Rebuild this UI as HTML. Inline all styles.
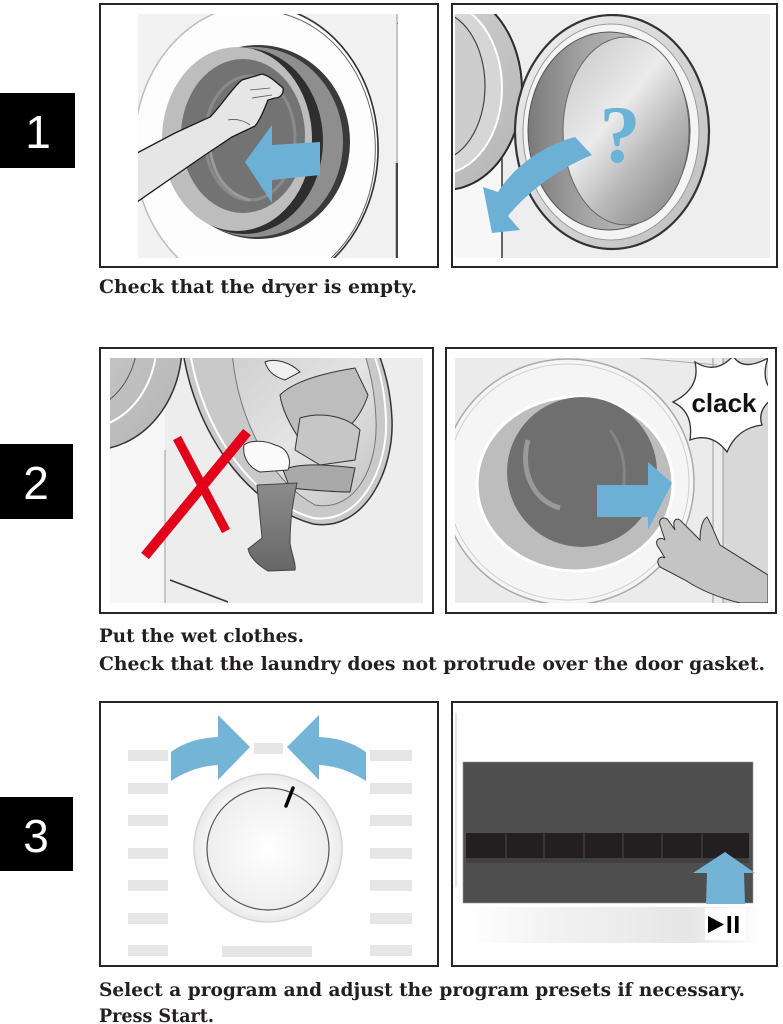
<!DOCTYPE html>
<html><head><meta charset="utf-8">
<style>
html,body{margin:0;padding:0;background:#fff;}
svg{display:block;}
</style></head><body>
<svg width="783" height="1024" viewBox="0 0 783 1024" xmlns="http://www.w3.org/2000/svg">
<defs>
  <clipPath id="c1"><rect x="138" y="14" width="260" height="244"/></clipPath>
  <clipPath id="c2"><rect x="455" y="14" width="315" height="244"/></clipPath>
  <clipPath id="c3"><rect x="110" y="358" width="313" height="245"/></clipPath>
  <clipPath id="c4"><rect x="455" y="358" width="313" height="245"/></clipPath>
  <linearGradient id="gL" x1="0" y1="0" x2="1" y2="1">
    <stop offset="0" stop-color="#d8d8d8"/><stop offset="1" stop-color="#b4b4b4"/>
  </linearGradient>
  <linearGradient id="bowl" x1="0" y1="0" x2="1" y2="0">
    <stop offset="0" stop-color="#7a7a7a"/><stop offset="0.35" stop-color="#a4a4a4"/><stop offset="1" stop-color="#cfcfcf"/>
  </linearGradient>
  <linearGradient id="disc" x1="0" y1="0" x2="0.8" y2="1">
    <stop offset="0" stop-color="#c4c4c4"/><stop offset="0.45" stop-color="#ebebeb"/><stop offset="0.7" stop-color="#b9b9b9"/><stop offset="1" stop-color="#8a8a8a"/>
  </linearGradient>
  <linearGradient id="ringg" x1="0" y1="0" x2="1" y2="1">
    <stop offset="0" stop-color="#f0f0f0"/><stop offset="1" stop-color="#bcbcbc"/>
  </linearGradient>
  <linearGradient id="drum2" x1="0" y1="0" x2="1" y2="1">
    <stop offset="0" stop-color="#cfcfcf"/><stop offset="0.5" stop-color="#e4e4e4"/><stop offset="1" stop-color="#c2c2c2"/>
  </linearGradient>
  <linearGradient id="sock" x1="0" y1="0" x2="0" y2="1">
    <stop offset="0" stop-color="#8c8c8c"/><stop offset="1" stop-color="#676767"/>
  </linearGradient>
  <linearGradient id="bar" x1="0" y1="0" x2="1" y2="0">
    <stop offset="0" stop-color="#ffffff"/><stop offset="0.3" stop-color="#f2f2f2"/><stop offset="0.75" stop-color="#e6e6e6"/><stop offset="1" stop-color="#ffffff"/>
  </linearGradient>
  <radialGradient id="dialIn" cx="0.5" cy="0.5" r="0.5">
    <stop offset="0" stop-color="#ffffff"/><stop offset="1" stop-color="#eeeeee"/>
  </radialGradient>
  <radialGradient id="dialOut" cx="0.5" cy="0.5" r="0.5">
    <stop offset="0.8" stop-color="#f7f7f7"/><stop offset="1" stop-color="#e9e9e9"/>
  </radialGradient>
</defs>

<!-- number boxes -->
<rect x="0" y="93" width="75" height="75" fill="#000"/>
<text x="38" y="148" font-family="Liberation Sans, sans-serif" font-size="46" fill="#fff" text-anchor="middle">1</text>
<rect x="0" y="444" width="73" height="75" fill="#000"/>
<text x="36" y="499" font-family="Liberation Sans, sans-serif" font-size="46" fill="#fff" text-anchor="middle">2</text>
<rect x="0" y="797" width="73" height="74" fill="#000"/>
<text x="36" y="852" font-family="Liberation Sans, sans-serif" font-size="46" fill="#fff" text-anchor="middle">3</text>

<!-- Panel 1 left -->
<g clip-path="url(#c1)">
  <rect x="138" y="14" width="260" height="244" fill="#f1f1f1"/>
  <ellipse cx="256" cy="148" rx="122" ry="143" fill="#fdfdfd" stroke="#bdbdbd" stroke-width="1.5"/>
  <path d="M287.6,10 A122,143 0 0 1 317,272" fill="none" stroke="#333" stroke-width="1.6"/>
  <path d="M284,14 A118,139 0 0 1 313,272" fill="none" stroke="#666" stroke-width="1"/>
  <ellipse cx="258" cy="142" rx="92" ry="97" fill="#3a3a3a"/>
  <ellipse cx="254" cy="142" rx="89" ry="95" fill="#8e8e8e"/>
  <ellipse cx="244" cy="141" rx="79" ry="93" fill="#2e2e2e"/>
  <ellipse cx="237" cy="139" rx="75" ry="92" fill="#bdbdbd"/>
  <ellipse cx="243" cy="136" rx="62" ry="77" fill="#737373"/>
  <ellipse cx="250" cy="138" rx="45" ry="62" fill="none" stroke="#8a8a8a" stroke-width="3"/>
  <path d="M210,150 C215,180 230,195 250,200" fill="none" stroke="#999" stroke-width="3"/>
  <path d="M137,153 L175,133 L210,117 C222,105 232,88 242,80 L262,74 C270,76 276,82 283,88 C284,94 280,98 275,98 L268,100 C264,110 260,120 255,126 L232,137 L205,155 L173,177 L137,202 Z" fill="#e6e6e6" stroke="#1a1a1a" stroke-width="1.3"/>
  <path d="M250,90 L270,88 M252,98 L272,95 M228,120 C238,118 246,122 250,125" fill="none" stroke="#555" stroke-width="0.8"/>
  <path d="M245,162 L272,125 L272,145 L320,142 L320,175 L272,180 L272,203 Z" fill="#6cb1d5"/>
  <line x1="397" y1="14" x2="397" y2="258" stroke="#999" stroke-width="1"/>
  <line x1="397" y1="163" x2="397" y2="258" stroke="#444" stroke-width="2.5"/>
  <line x1="397" y1="24" x2="408" y2="17" stroke="#777" stroke-width="1"/>
</g>

<!-- Panel 1 right -->
<g clip-path="url(#c2)">
  <rect x="455" y="14" width="315" height="244" fill="#eeeeee"/>
  <rect x="455" y="14" width="47" height="244" fill="#f7f7f7"/>
  <ellipse cx="445" cy="90" rx="77" ry="100" fill="url(#gL)" stroke="#2a2a2a" stroke-width="2"/>
  <ellipse cx="440" cy="88" rx="62" ry="86" fill="#d6d6d6" stroke="#fff" stroke-width="2"/>
  <ellipse cx="435" cy="86" rx="50" ry="75" fill="#cdcdcd" stroke="#444" stroke-width="1.2"/>
  <line x1="502" y1="157" x2="502" y2="258" stroke="#333" stroke-width="1.5"/>
  <ellipse cx="612" cy="132" rx="97" ry="117" fill="url(#ringg)" stroke="#333" stroke-width="2.2"/>
  <ellipse cx="611" cy="132" rx="88" ry="108" fill="#f4f4f4" stroke="#9a9a9a" stroke-width="1"/>
  <ellipse cx="609" cy="131" rx="81" ry="99" fill="url(#bowl)" stroke="#555" stroke-width="1"/>
  <ellipse cx="626" cy="131" rx="63" ry="94" fill="url(#disc)" stroke="#666" stroke-width="1"/>
  <text x="620" y="162" font-family="Liberation Serif, serif" font-weight="bold" font-size="82" fill="#6ab3d6" text-anchor="middle">?</text>
  <path d="M575,137 C555,142 520,158 498,192 L483,187 L492,233 L520,230 L508,216 C525,195 555,170 592,155 Z" fill="#6cb1d5"/>
</g>

<!-- Panel 2 left -->
<g clip-path="url(#c3)">
  <rect x="110" y="358" width="313" height="245" fill="#ededed"/>
  <rect x="110" y="358" width="55" height="245" fill="#f6f6f6"/>
  <ellipse cx="92" cy="345" rx="90" ry="105" fill="url(#gL)" stroke="#333" stroke-width="1.5"/>
  <ellipse cx="85" cy="340" rx="72" ry="88" fill="none" stroke="#fff" stroke-width="2"/>
  <ellipse cx="80" cy="335" rx="58" ry="75" fill="none" stroke="#555" stroke-width="1"/>
  <line x1="165" y1="450" x2="165" y2="603" stroke="#999" stroke-width="1"/>
  <path d="M183,352 C195,430 245,505 313,524 C365,532 394,470 392,420 C391,392 385,370 378,352 Z" fill="#c9c9c9" stroke="#333" stroke-width="1.5"/>
  <path d="M190,352 C202,428 250,500 313,518 C360,525 388,468 386,420 C385,392 380,370 373,352" fill="none" stroke="#fff" stroke-width="2"/>
  <path d="M232,352 C238,420 270,480 315,505 C355,512 378,468 376,420 C375,392 370,370 364,352 Z" fill="url(#drum2)" stroke="#777" stroke-width="1"/>
  <path d="M265,362 C275,358 290,362 300,372 L285,380 C275,377 268,372 265,362 Z" fill="#f0f0f0" stroke="#333" stroke-width="1"/>
  <path d="M280,395 C295,380 330,372 355,368 L368,395 C360,420 340,440 320,445 L300,440 C290,425 282,410 280,395 Z" fill="#bdbdbd" stroke="#333" stroke-width="1"/>
  <path d="M300,418 C320,412 345,415 360,430 L355,460 L320,465 L295,450 Z" fill="#c6c6c6" stroke="#333" stroke-width="1"/>
  <path d="M283,470 C300,462 330,465 355,468 L350,492 C330,492 310,490 290,488 Z" fill="#a9a9a9" stroke="#333" stroke-width="1"/>
  <path d="M244,445 C250,440 265,440 275,445 C288,448 292,460 288,470 L260,472 C250,468 242,458 244,445 Z" fill="#fafafa" stroke="#333" stroke-width="1"/>
  <path d="M257,485 L297,483 C293,500 290,520 290,543 C292,556 296,563 295,570 L268,571 C258,565 250,558 248,549 L262,538 Z" fill="url(#sock)" stroke="#444" stroke-width="1"/>
  <line x1="145" y1="556" x2="247" y2="432" stroke="#e2001a" stroke-width="10"/>
  <line x1="177" y1="438" x2="226" y2="531" stroke="#e2001a" stroke-width="9"/>
  <line x1="170" y1="580" x2="228" y2="602" stroke="#333" stroke-width="1.5"/>
</g>

<!-- Panel 2 right -->
<g clip-path="url(#c4)">
  <rect x="455" y="358" width="313" height="245" fill="#ebebeb"/>
  <rect x="723" y="358" width="45" height="245" fill="#d8d8d8"/>
  <line x1="713" y1="358" x2="713" y2="603" stroke="#999" stroke-width="1"/>
  <line x1="723" y1="358" x2="723" y2="603" stroke="#999" stroke-width="1"/>
  <line x1="640" y1="358" x2="717" y2="365" stroke="#aaa" stroke-width="1"/>
  <ellipse cx="568" cy="482" rx="126" ry="123" fill="#f5f5f5" stroke="#aaa" stroke-width="1.5"/>
  <ellipse cx="568" cy="482" rx="121" ry="118" fill="none" stroke="#cfcfcf" stroke-width="1"/>
  <ellipse cx="575" cy="484" rx="98" ry="87" fill="#bdbdbd" stroke="#fff" stroke-width="3"/>
  <ellipse cx="582" cy="472" rx="75" ry="75" fill="#6f6f6f"/>
  <path d="M528,440 C520,470 532,500 560,508" fill="none" stroke="#9a9a9a" stroke-width="5"/>
  <path d="M610,430 C625,450 628,475 620,500" fill="none" stroke="#858585" stroke-width="3"/>
  <path d="M695,362 Q701,388 673,402 Q694,412 690,440 Q712,432 727,452 Q737,428 762,425 Q756,408 778,395 Q759,384 768,358 Q743,372 733,356 Q716,375 695,362 Z" fill="#fff" stroke="#333" stroke-width="1.3"/>
  <text x="724" y="412" font-family="Liberation Sans, sans-serif" font-weight="bold" font-size="26" fill="#111" text-anchor="middle">clack</text>
  <path d="M597,485 L648,485 L648,462 L672,483 L648,530 L648,517 L597,517 Z" fill="#6cb1d5"/>
  <path d="M707,517 C712,525 715,535 720,545 L768,575 L768,603 L740,603 C720,598 700,590 685,580 L660,567 C655,560 660,555 665,558 L657,545 C655,538 662,537 665,540 L660,525 C658,518 665,516 668,520 L675,530 C672,522 675,517 680,520 L700,540 C700,530 702,520 707,517 Z" fill="#c4c4c4" stroke="#333" stroke-width="1"/>
</g>

<!-- Panel 3 left -->
<g fill="#e6e6e7">
  <rect x="128" y="750" width="40" height="11"/><rect x="128" y="783" width="40" height="11"/>
  <rect x="128" y="815" width="40" height="11"/><rect x="128" y="848" width="40" height="11"/>
  <rect x="128" y="880" width="40" height="11"/><rect x="128" y="913" width="40" height="11"/>
  <rect x="128" y="945" width="40" height="11"/>
  <rect x="370" y="750" width="42" height="11"/><rect x="370" y="783" width="42" height="11"/>
  <rect x="370" y="815" width="42" height="11"/><rect x="370" y="848" width="42" height="11"/>
  <rect x="370" y="880" width="42" height="11"/><rect x="370" y="913" width="42" height="11"/>
  <rect x="370" y="945" width="42" height="11"/>
  <rect x="254" y="743" width="29" height="11"/>
  <rect x="222" y="946" width="90" height="11"/>
</g>
<circle cx="268" cy="848" r="74" fill="url(#dialOut)" stroke="#d5d5d5" stroke-width="1.5"/>
<circle cx="268" cy="849" r="61" fill="url(#dialIn)" stroke="#555" stroke-width="1.2"/>
<line x1="293" y1="788" x2="286" y2="806" stroke="#000" stroke-width="3.5" stroke-linecap="round"/>
<path d="M171,752 C185,742 200,738 218,737 L218,715 L250,747 L218,780 L218,765 C200,766 185,772 171,781 Z" fill="#74b4d6"/>
<path d="M366,752 C352,742 337,738 319,737 L319,715 L287,747 L319,780 L319,765 C337,766 352,772 366,781 Z" fill="#74b4d6"/>

<!-- Panel 3 right -->
<line x1="456" y1="713" x2="456" y2="887" stroke="#ccc" stroke-width="1"/>
<rect x="463" y="762" width="290" height="141" fill="#4e4e4e" stroke="#9a9a9a" stroke-width="0.6"/>
<rect x="466" y="833" width="283" height="25" fill="#231f20"/>
<rect x="466" y="858" width="283" height="5" fill="#404040"/>
<g stroke="#4a4a4a" stroke-width="1">
  <line x1="506" y1="833" x2="506" y2="858"/><line x1="544" y1="833" x2="544" y2="858"/>
  <line x1="584" y1="833" x2="584" y2="858"/><line x1="623" y1="833" x2="623" y2="858"/>
  <line x1="662" y1="833" x2="662" y2="858"/><line x1="702" y1="833" x2="702" y2="858"/>
</g>
<rect x="466" y="907" width="296" height="36" fill="url(#bar)"/>
<path d="M725,852 L755,873 L744,873 L745,904 L706,904 L707,873 L693,873 Z" fill="#72b3d6"/>
<rect x="705" y="908" width="40" height="32" fill="#fff"/>
<path d="M708,916 L724,924.5 L708,933 Z" fill="#000"/>
<rect x="727.5" y="916" width="3.6" height="17" fill="#000"/>
<rect x="735" y="916" width="3.6" height="17" fill="#000"/>

<!-- panel borders -->
<g fill="none" stroke="#262626" stroke-width="2">
  <rect x="100" y="4" width="338" height="263"/>
  <rect x="452" y="4" width="325" height="263"/>
  <rect x="100" y="348" width="333" height="265"/>
  <rect x="446" y="348" width="330" height="265"/>
  <rect x="100" y="702" width="338" height="264"/>
  <rect x="452" y="702" width="325" height="264"/>
</g>

<!-- captions -->
<g font-family="DejaVu Serif, serif" font-weight="bold" font-size="18.5" fill="#231f20">
  <text x="99" y="293" textLength="318" lengthAdjust="spacingAndGlyphs">Check that the dryer is empty.</text>
  <text x="99" y="642" textLength="205" lengthAdjust="spacingAndGlyphs">Put the wet clothes.</text>
  <text x="99" y="670" textLength="666" lengthAdjust="spacingAndGlyphs">Check that the laundry does not protrude over the door gasket.</text>
  <text x="99" y="996" textLength="646" lengthAdjust="spacingAndGlyphs">Select a program and adjust the program presets if necessary.</text>
  <text x="99" y="1022" textLength="115" lengthAdjust="spacingAndGlyphs">Press Start.</text>
</g>
</svg>
</body></html>
